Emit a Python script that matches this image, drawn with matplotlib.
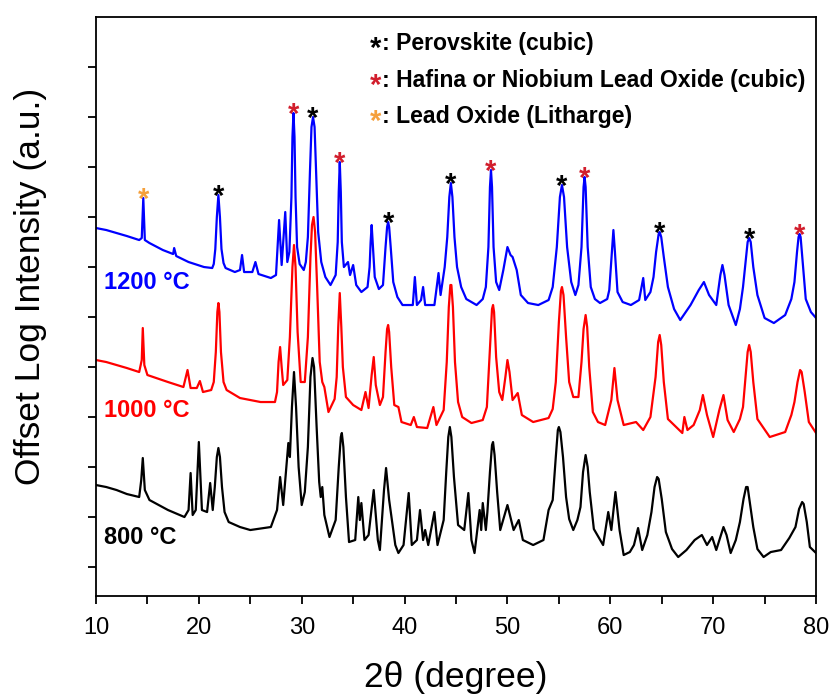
import numpy as np
import matplotlib
matplotlib.use("Agg")
import matplotlib.pyplot as plt

plt.rcParams["font.family"] = ["Liberation Sans", "DejaVu Sans"]

# XRD traces (2theta in degrees, offset log intensity in arbitrary units)
blue_1200 = np.array([
    (10, 339), (11, 337), (12, 334), (13, 331), (14.2, 327), (14.45, 329), (14.6, 369),
    (14.75, 327), (15.2, 324), (16.5, 317), (17.5, 313), (17.6, 319), (17.8, 311), (19, 305),
    (20.5, 300), (21.3, 299), (21.45, 303), (21.6, 318), (21.75, 350), (21.9, 372),
    (22.05, 350), (22.2, 318), (22.4, 304), (22.6, 299), (23.5, 295), (24.0, 297), (24.2, 312),
    (24.4, 295), (25.2, 295), (25.5, 305), (25.8, 293), (27.0, 289), (27.5, 292), (27.8, 347),
    (28.05, 302), (28.4, 355), (28.6, 305), (28.8, 315), (29.0, 370), (29.1, 430), (29.2, 454),
    (29.3, 430), (29.4, 370), (29.55, 320), (29.8, 303), (30.2, 297), (30.4, 305), (30.6, 330),
    (30.8, 395), (30.95, 440), (31.1, 450), (31.25, 440), (31.4, 395), (31.6, 335),
    (31.9, 305), (32.3, 290), (32.8, 282), (33.3, 292), (33.5, 325), (33.6, 375), (33.7, 405),
    (33.8, 375), (33.9, 325), (34.1, 300), (34.5, 305), (34.7, 292), (35.0, 302), (35.3, 282),
    (35.8, 275), (36.4, 280), (36.6, 300), (36.7, 325), (36.8, 342), (36.9, 325), (37.1, 290),
    (37.5, 278), (37.9, 282), (38.15, 320), (38.3, 340), (38.4, 345), (38.5, 340),
    (38.65, 320), (38.9, 285), (39.3, 270), (39.8, 262), (40.8, 262), (41.0, 290),
    (41.2, 262), (41.6, 267), (41.8, 280), (42.0, 262), (42.9, 262), (43.3, 294), (43.5, 272),
    (43.9, 300), (44.15, 330), (44.35, 370), (44.5, 384), (44.65, 370), (44.85, 330),
    (45.1, 300), (45.5, 280), (46.0, 268), (47.0, 262), (47.6, 268), (47.9, 280), (48.15, 320),
    (48.3, 380), (48.4, 397), (48.5, 380), (48.65, 320), (48.9, 285), (49.2, 277), (49.6, 297),
    (50.0, 320), (50.3, 312), (50.5, 310), (50.9, 297), (51.3, 272), (52.0, 264), (53.0, 262),
    (54.0, 267), (54.4, 280), (54.8, 320), (55.1, 370), (55.3, 382), (55.5, 370), (55.8, 320),
    (56.2, 285), (56.6, 272), (56.9, 282), (57.2, 320), (57.4, 380), (57.5, 390), (57.6, 380),
    (57.8, 320), (58.1, 280), (58.5, 268), (59.0, 264), (59.7, 268), (59.9, 277),
    (60.15, 315), (60.3, 337), (60.45, 315), (60.7, 275), (61.2, 265), (62.0, 262),
    (62.8, 267), (63.2, 289), (63.4, 267), (63.9, 275), (64.2, 290), (64.45, 315), (64.7, 333),
    (64.8, 335), (64.95, 330), (65.2, 310), (65.6, 280), (66.2, 258), (66.8, 247), (67.8, 262),
    (68.6, 277), (69.1, 285), (69.6, 272), (70.3, 262), (70.7, 292), (70.9, 302), (71.1, 292),
    (71.5, 262), (72.2, 242), (72.6, 258), (72.9, 280), (73.15, 305), (73.35, 325),
    (73.5, 329), (73.65, 325), (73.9, 300), (74.3, 272), (75.0, 249), (75.9, 244), (77.0, 252),
    (77.6, 268), (77.9, 285), (78.15, 315), (78.3, 330), (78.4, 333), (78.5, 330),
    (78.7, 305), (79.0, 268), (79.5, 255), (80.0, 249),
])

red_1000 = np.array([
    (10, 207), (11, 205), (12, 202), (13, 199), (14.2, 195), (14.45, 207), (14.55, 239),
    (14.7, 202), (15.0, 192), (17.0, 185), (18.5, 180), (18.9, 197), (19.2, 179), (19.8, 179),
    (20.1, 186), (20.4, 175), (21.2, 177), (21.45, 185), (21.65, 215), (21.8, 255),
    (21.9, 264), (22.0, 255), (22.15, 215), (22.4, 185), (22.7, 177), (24, 169), (26, 165),
    (27.4, 165), (27.6, 175), (27.75, 205), (27.9, 220), (28.05, 200), (28.2, 182),
    (28.6, 187), (28.85, 230), (29.1, 300), (29.25, 322), (29.4, 300), (29.6, 235),
    (29.9, 185), (30.3, 185), (30.6, 230), (30.85, 310), (31.0, 342), (31.15, 350),
    (31.3, 335), (31.5, 280), (31.75, 205), (32.0, 185), (32.2, 180), (32.6, 155), (33.2, 168),
    (33.4, 190), (33.55, 240), (33.7, 274), (33.85, 240), (34.0, 200), (34.3, 170), (35.0, 162),
    (35.8, 157), (36.2, 175), (36.5, 159), (36.8, 192), (37.0, 210), (37.2, 182), (37.6, 162),
    (37.9, 170), (38.15, 215), (38.3, 238), (38.4, 242), (38.5, 235), (38.7, 200), (39.0, 162),
    (39.4, 160), (39.7, 145), (40.6, 142), (40.9, 150), (41.2, 140), (42.2, 139), (42.8, 160),
    (43.1, 142), (43.8, 157), (44.1, 205), (44.3, 260), (44.45, 282), (44.55, 282),
    (44.7, 260), (44.9, 205), (45.2, 165), (45.6, 150), (46.5, 144), (47.6, 147), (48.0, 160),
    (48.3, 220), (48.5, 258), (48.6, 262), (48.7, 255), (48.9, 210), (49.2, 175), (49.5, 167),
    (49.8, 190), (50.0, 207), (50.2, 195), (50.5, 167), (51.0, 174), (51.4, 152), (52.5, 145),
    (54.0, 149), (54.4, 158), (54.7, 185), (55.0, 245), (55.2, 276), (55.3, 280),
    (55.45, 272), (55.7, 230), (56.0, 185), (56.4, 170), (56.9, 170), (57.2, 205), (57.4, 238),
    (57.6, 252), (57.75, 240), (57.95, 200), (58.3, 155), (58.8, 145), (59.5, 142),
    (60.1, 167), (60.4, 199), (60.7, 167), (61.3, 142), (62.5, 145), (63.2, 137), (63.9, 150),
    (64.4, 190), (64.65, 225), (64.8, 232), (64.95, 222), (65.2, 185), (65.6, 148),
    (67.0, 134), (67.2, 150), (67.5, 137), (68.1, 142), (68.7, 157), (69.0, 172), (69.4, 152),
    (70.0, 130), (70.6, 157), (71.0, 172), (71.4, 147), (72.0, 135), (72.6, 148), (72.9, 160),
    (73.15, 190), (73.35, 215), (73.5, 222), (73.65, 215), (73.9, 185), (74.3, 148),
    (75.5, 130), (77.0, 135), (77.6, 152), (77.9, 165), (78.2, 185), (78.45, 197),
    (78.6, 195), (78.9, 175), (79.3, 145), (80.0, 134),
])

black_800 = np.array([
    (10, 82), (11, 80), (12, 77), (13, 73), (14.2, 70), (14.4, 87), (14.55, 109), (14.75, 77),
    (15.2, 67), (17.0, 57), (18.6, 50), (19.0, 57), (19.2, 94), (19.4, 52), (19.7, 57),
    (20.0, 125), (20.3, 57), (20.8, 55), (21.1, 84), (21.35, 57), (21.55, 80), (21.75, 110),
    (21.9, 119), (22.05, 110), (22.25, 80), (22.5, 55), (22.9, 45), (24.0, 40), (25.0, 37),
    (27.0, 40), (27.6, 57), (27.9, 90), (28.2, 62), (28.5, 100), (28.7, 124), (28.85, 110),
    (29.05, 160), (29.25, 195), (29.45, 160), (29.7, 100), (30.0, 62), (30.3, 75), (30.6, 120),
    (30.85, 190), (31.05, 209), (31.2, 200), (31.45, 140), (31.7, 85), (31.85, 70),
    (32.0, 80), (32.2, 52), (32.7, 30), (33.3, 47), (33.6, 100), (33.8, 130), (33.9, 134),
    (34.05, 120), (34.3, 70), (34.6, 25), (35.2, 27), (35.5, 70), (35.65, 47), (35.8, 64),
    (36.1, 27), (36.5, 32), (37.0, 77), (37.4, 27), (37.6, 17), (38.0, 77), (38.2, 99),
    (38.5, 67), (38.9, 37), (39.1, 22), (39.4, 14), (39.9, 22), (40.4, 74), (40.7, 22),
    (41.2, 27), (41.5, 57), (41.8, 27), (42.0, 37), (42.3, 22), (42.9, 55), (43.2, 22),
    (43.8, 47), (44.05, 95), (44.25, 130), (44.4, 140), (44.55, 130), (44.8, 90), (45.2, 42),
    (45.8, 37), (46.2, 74), (46.5, 27), (46.8, 14), (47.3, 57), (47.45, 37), (47.6, 64),
    (47.9, 37), (48.05, 55), (48.3, 95), (48.5, 122), (48.6, 125), (48.75, 112), (49.0, 75),
    (49.3, 37), (50.0, 62), (50.6, 37), (51.1, 47), (51.5, 27), (52.5, 22), (53.5, 27),
    (54.0, 57), (54.4, 67), (54.7, 110), (54.9, 137), (55.0, 140), (55.15, 135), (55.4, 110),
    (55.7, 70), (56.0, 48), (56.4, 37), (56.8, 47), (57.1, 60), (57.35, 95), (57.6, 112),
    (57.8, 100), (58.0, 75), (58.4, 38), (59.3, 22), (59.8, 55), (60.1, 37), (60.5, 75),
    (60.9, 37), (61.3, 12), (61.9, 15), (62.3, 22), (62.7, 39), (63.1, 17), (63.6, 32),
    (64.0, 55), (64.3, 80), (64.55, 90), (64.7, 88), (65.0, 68), (65.4, 35), (66.0, 18),
    (66.6, 10), (67.4, 17), (68.2, 27), (68.9, 32), (69.4, 22), (69.9, 30), (70.3, 17),
    (71.0, 40), (71.3, 32), (71.7, 14), (72.2, 27), (72.6, 45), (72.95, 68), (73.2, 80),
    (73.35, 80), (73.6, 62), (73.9, 40), (74.3, 18), (74.9, 10), (75.6, 15), (76.6, 17),
    (77.4, 29), (78.0, 40), (78.35, 58), (78.65, 65), (78.8, 63), (79.1, 45), (79.4, 20),
    (80.0, 14),
])

# phase marks on the 1200 C pattern
perovskite_peaks = [21.9, 31.1, 38.4, 44.5, 55.3, 64.8, 73.5]
pb_oxide_cubic_peaks = [29.2, 33.7, 48.4, 57.5, 78.4]
litharge_peaks = [14.6]

C_BLACK = "black"
C_RED = "#d21e2d"
C_ORANGE = "#f5a03c"

fig = plt.figure(figsize=(8.31, 6.98), dpi=100)
ax = fig.add_axes([0.1155, 0.1461, 0.8665, 0.8295])

ax.plot(blue_1200[:, 0], blue_1200[:, 1], color="blue", lw=1.6)
ax.plot(red_1000[:, 0], red_1000[:, 1], color="red", lw=1.6)
ax.plot(black_800[:, 0], black_800[:, 1], color="black", lw=1.6)


def star(x, y, color, dy=-1.5):
    ax.annotate("*", xy=(x, y), xytext=(0, dy), textcoords="offset points",
                ha="center", va="center", fontsize=21, fontweight="bold", color=color)


def peak_top(trace, x0, half=0.4):
    sel = np.abs(trace[:, 0] - x0) <= half
    i = np.argmax(trace[sel, 1])
    return trace[sel][i]


for peaks, col in [(perovskite_peaks, C_BLACK), (pb_oxide_cubic_peaks, C_RED),
                   (litharge_peaks, C_ORANGE)]:
    for p in peaks:
        px, py = peak_top(blue_1200, p)
        star(px, py, col)

# phase key
key = [(C_BLACK, "Perovskite (cubic)"),
       (C_RED, "Hafina or Niobium Lead Oxide (cubic)"),
       (C_ORANGE, "Lead Oxide (Litharge)")]
for k, (col, name) in enumerate(key):
    yk = 517 - k * 36.5
    star(37.2, yk + 8, col, dy=-5)
    ax.text(37.8, yk, ": " + name, fontsize=16.6, fontweight="bold", va="baseline")

# temperature labels
ax.text(10.8, 285, "1200 °C", color="blue", fontsize=17, fontweight="bold", va="center")
ax.text(10.8, 157, "1000 °C", color="red", fontsize=17, fontweight="bold", va="center")
ax.text(10.8, 30, "800 °C", color="black", fontsize=17, fontweight="bold", va="center")

ax.set_xlim(10, 80)
ax.set_ylim(-29, 550)
ax.set_xticks(np.arange(10, 81, 10))
ax.set_xticks(np.arange(15, 80, 10), minor=True)
ax.set_yticks(np.arange(0, 501, 50))
ax.set_yticklabels([])
ax.tick_params(axis="both", which="both", direction="out", length=6, width=1.3,
               top=False, right=False)
ax.tick_params(axis="x", labelsize=17, pad=9)
for s in ax.spines.values():
    s.set_linewidth(1.3)

ax.set_xlabel("2θ (degree)", fontsize=25.5, labelpad=16)
ax.set_ylabel("Offset Log Intensity (a.u.)", fontsize=25.5)
ax.yaxis.set_label_coords(-0.068, 0.535)

fig.savefig("out.png", dpi=100)
